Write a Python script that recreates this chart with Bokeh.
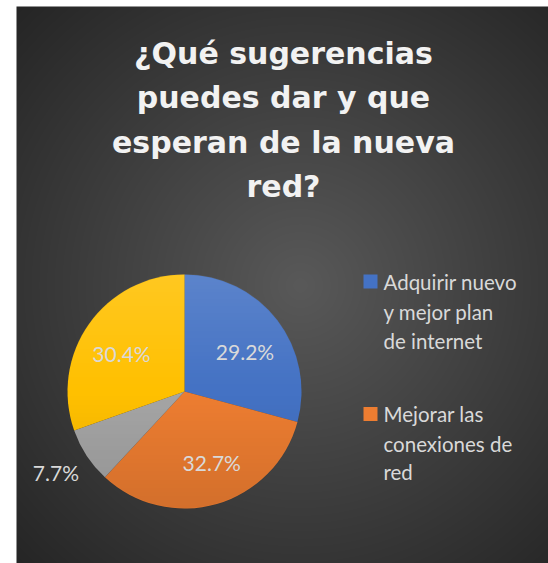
import numpy as np
from bokeh.plotting import figure
from bokeh.models import Range1d, ColumnDataSource
from bokeh.embed import file_html
from bokeh.resources import INLINE
from bokeh.core.properties import value

# ---------------- data ----------------
title_lines = ["¿Qué sugerencias", "puedes dar y que", "esperan de la nueva", "red?"]
categories = ["Adquirir nuevo y mejor plan de internet",
              "Mejorar las conexiones de red",
              "Otra sugerencia", "Otra sugerencia 2"]
shares = [29.2, 32.7, 7.7, 30.4]
slice_labels = ["29.2%", "32.7%", "7.7%", "30.4%"]
colors = ["#4472C4", "#ED7D31", "#A5A5A5", "#FFC000"]
legend_lines = [["Adquirir nuevo", "y mejor plan", "de internet"],
                ["Mejorar las", "conexiones de", "red"]]

# ---------------- layout helpers (page pixel coords) ----------------
PAGE_W, PAGE_H = 548, 563
def Y(py):
    return PAGE_H - py

p = figure(width=PAGE_W, height=PAGE_H, x_range=Range1d(0, PAGE_W), y_range=Range1d(0, PAGE_H),
           output_backend="svg", toolbar_location=None, min_border=0,
           background_fill_color="white", border_fill_color="white",
           outline_line_color=None)
p.axis.visible = False
p.grid.visible = False

# background radial gradient panel (page x 16..548, page y 6..563)
x0, x1 = 16, 548
py0, py1 = 6, 563
bw, bh = x1 - x0, py1 - py0
xs = x0 + np.arange(bw) + 0.5
ys_data = Y(py1) + np.arange(bh) + 0.5
XX, YY = np.meshgrid(xs, ys_data)
PY = PAGE_H - YY
cxg, cyg = 300, 285
d = np.sqrt((XX - cxg) ** 2 + (PY - cyg) ** 2)
t = np.clip(d / 400.0, 0, 1)
inner, outer = 0x59, 0x25
g = (inner + (outer - inner) * t).astype(np.uint8)
img = np.zeros((bh, bw), dtype=np.uint32)
view = img.view(dtype=np.uint8).reshape((bh, bw, 4))
view[:, :, 0] = g
view[:, :, 1] = g
view[:, :, 2] = g
view[:, :, 3] = 255
p.image_rgba(image=[img], x=x0, y=Y(py1), dw=bw, dh=bh)

# ---------------- pie ----------------
cx, cy, R = 184, 391, 117
frac = np.array(shares) / np.sum(shares)
cum = np.concatenate([[0], np.cumsum(frac)])
start = np.pi / 2 - 2 * np.pi * cum[:-1]
end = np.pi / 2 - 2 * np.pi * cum[1:]
src = ColumnDataSource(dict(start=start, end=end, color=colors, cat=categories))
p.wedge(x=cx, y=Y(cy), radius=R, start_angle="start", end_angle="end",
        direction="clock", fill_color="color", line_color=None, source=src)

# subtle vertical shading over pie (light top, dark bottom)
n = 2 * R + 4
gx = cx - R - 2 + np.arange(n) + 0.5
gy = Y(cy) - R - 2 + np.arange(n) + 0.5
GX, GY = np.meshgrid(gx, gy)
dd = np.sqrt((GX - cx) ** 2 + (GY - Y(cy)) ** 2)
edge = np.clip(R - dd + 0.5, 0, 1)
tt = (Y(cy) + R - GY) / (2 * R)  # 0 top, 1 bottom
ov = np.zeros((n, n), dtype=np.uint32)
ovv = ov.view(dtype=np.uint8).reshape((n, n, 4))
white = tt < 0.5
a = np.where(white, (0.5 - tt) * 0.26, (tt - 0.5) * 0.22)
col = np.where(white, 255, 0).astype(np.uint8)
ovv[:, :, 0] = col
ovv[:, :, 1] = col
ovv[:, :, 2] = col
ovv[:, :, 3] = (np.clip(a, 0, 1) * edge * 255).astype(np.uint8)
p.image_rgba(image=[ov], x=cx - R - 2, y=Y(cy) - R - 2, dw=n, dh=n)

# data labels (radius factor, angle offset in degrees) -- placement only
placement = [(0.62, -4), (0.65, 5), (1.30, -1), (0.63, 4)]
mid = (start + end) / 2
lx, ly = [], []
for m, (rf, off) in zip(mid, placement):
    ang = m + np.deg2rad(off)
    lx.append(cx + rf * R * np.cos(ang))
    ly.append(Y(cy) + rf * R * np.sin(ang))
p.text(x=lx, y=ly, text=slice_labels, text_font=value("Lato"),
       text_font_size="21px", text_color="#D9D9D9", text_align="center",
       text_baseline="middle")

# ---------------- title ----------------
tmid = [52.5, 97, 141.5, 186]
p.text(x=[283] * 4, y=[Y(b) for b in tmid], text=title_lines,
       text_font=value("DejaVu Sans"), text_font_style="bold",
       text_font_size="30px", text_color="#F2F2F2", text_align="center",
       text_baseline="middle")

# ---------------- legend ----------------
sq_y = [281, 413.5]
p.rect(x=[370, 370], y=[Y(v) for v in sq_y], width=14, height=14,
       fill_color=colors[:2], line_color=None)
leg_mid = [[281, 311, 340], [413, 443, 471]]
lxs, lys, lts = [], [], []
for lines, mids in zip(legend_lines, leg_mid):
    for s, b in zip(lines, mids):
        lxs.append(383)
        lys.append(Y(b))
        lts.append(s)
p.text(x=lxs, y=lys, text=lts, text_font=value("Lato"), text_font_size="20.5px",
       text_color="#D9D9D9", text_align="left", text_baseline="middle")

open("out.html", "w").write(file_html(p, INLINE))
